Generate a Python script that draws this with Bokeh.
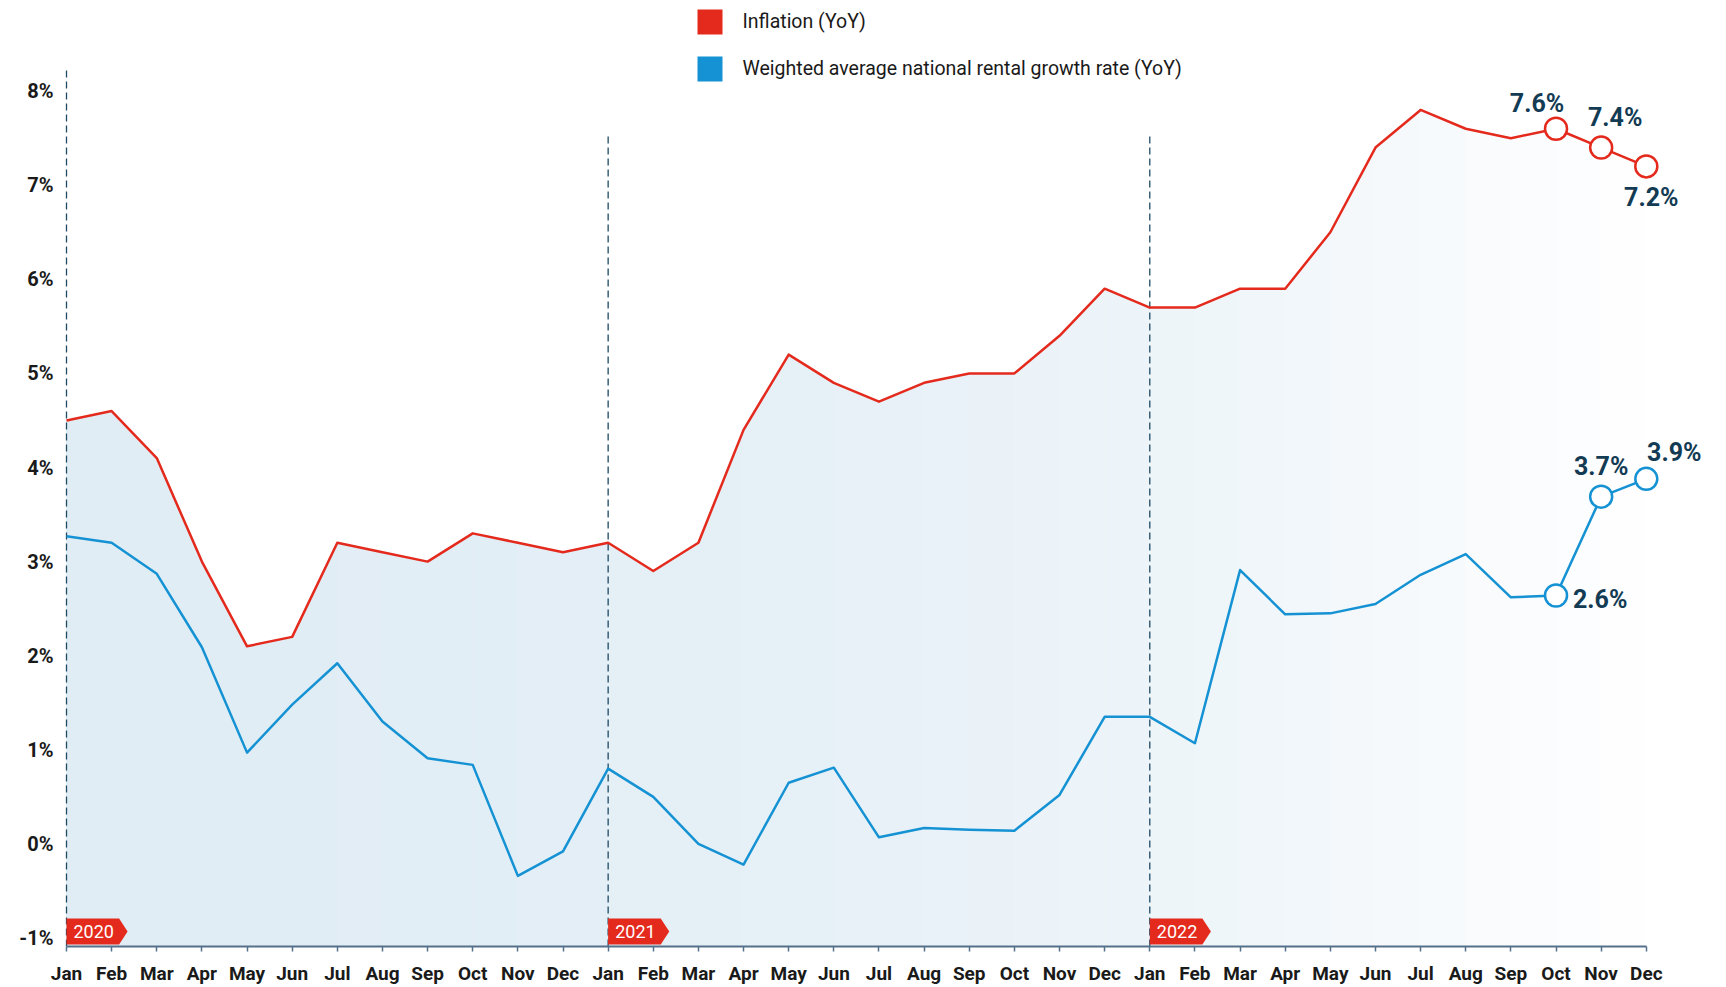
from bokeh.plotting import figure
from bokeh.models import Range1d, FixedTicker, ColumnDataSource
from bokeh.core.properties import value
from bokeh.embed import file_html
from bokeh.resources import INLINE

# ---------------- data ----------------
months = ["Jan", "Feb", "Mar", "Apr", "May", "Jun", "Jul", "Aug", "Sep", "Oct", "Nov", "Dec"]
years = [2020, 2021, 2022]
inflation = [4.5, 4.6, 4.1, 3.0, 2.1, 2.2, 3.2, 3.1, 3.0, 3.3, 3.2, 3.1,
             3.2, 2.9, 3.2, 4.4, 5.2, 4.9, 4.7, 4.9, 5.0, 5.0, 5.4, 5.9,
             5.7, 5.7, 5.9, 5.9, 6.5, 7.4, 7.8, 7.6, 7.5, 7.6, 7.4, 7.2]
rental = [3.27, 3.20, 2.87, 2.09, 0.97, 1.48, 1.92, 1.30, 0.91, 0.84, -0.34, -0.08,
          0.80, 0.50, 0.00, -0.22, 0.65, 0.81, 0.07, 0.17, 0.15, 0.14, 0.52, 1.35,
          1.35, 1.07, 2.91, 2.44, 2.45, 2.55, 2.86, 3.08, 2.62, 2.64, 3.69, 3.88]
series_names = ["Inflation (YoY)", "Weighted average national rental growth rate (YoY)"]
y_ticks = [-1, 0, 1, 2, 3, 4, 5, 6, 7, 8]
highlight = [33, 34, 35]

# ---------------- styles / layout ----------------
RED = "#e42a1d"
BLUE = "#1592d3"
NAVY = "#133b54"
DASH = "#1e4a64"
AXIS = "#55718a"
TXT = "#1a1a1a"
FONT = "Roboto"

W, H = 1726, 987
LB, BB = 58, 40
FW, FH = W - LB, H - BB
PX_X = 45.137          # pixels per month
PX_Y = 94.2            # pixels per 1 %
X0 = -(66 - LB) / PX_X
X1 = X0 + FW / PX_X
Y_TOP = 844.3 / PX_Y
Y_BOT = Y_TOP - FH / PX_Y


def py(page_y):
    return Y_TOP - page_y / PX_Y


def px(page_x):
    return (page_x - 66) / PX_X


n = len(inflation)
xs = list(range(n))
month_labels = [m for _ in years for m in months]

p = figure(width=W, height=H, output_backend="svg", toolbar_location=None,
           x_range=Range1d(X0, X1), y_range=Range1d(Y_BOT, Y_TOP),
           min_border_left=LB, min_border_bottom=BB, min_border_top=0, min_border_right=0)
p.outline_line_color = None
p.xgrid.visible = False
p.ygrid.visible = False
p.background_fill_color = "white"
p.border_fill_color = "white"

# ---------------- gradient area under inflation ----------------
base = (0xe1, 0xed, 0xf5)
pxs, pys, pcols = [], [], []
for i in range(n - 1):
    t = (i + 0.5) / (n - 1)
    f = t ** 2.3
    col = "#%02x%02x%02x" % tuple(int(round(c + f * (255 - c))) for c in base)
    pxs.append([xs[i], xs[i + 1], xs[i + 1], xs[i]])
    pys.append([Y_BOT, Y_BOT, inflation[i + 1], inflation[i]])
    pcols.append(col)
p.patches(pxs, pys, fill_color=pcols, line_color=pcols, line_width=1)

# ---------------- year dashed lines ----------------
year_idx = [len(months) * k for k in range(len(years))]
tops = [py(70), py(135), py(135)]
p.segment(x0=year_idx, y0=[Y_BOT] * len(years), x1=year_idx, y1=tops,
          line_color=DASH, line_width=1.3, line_dash="7 4")

# ---------------- lines ----------------
p.line(xs, inflation, line_color=RED, line_width=2.5, line_join="round")
p.line(xs, rental, line_color=BLUE, line_width=2.5, line_join="round")

hx = [xs[i] for i in highlight]
p.scatter(hx, [inflation[i] for i in highlight], marker="circle", size=22,
          fill_color="white", line_color=RED, line_width=2.5)
p.scatter(hx, [rental[i] for i in highlight], marker="circle", size=22,
          fill_color="white", line_color=BLUE, line_width=2.5)

# value labels
lab_src = ColumnDataSource(dict(
    x=hx + hx,
    y=[inflation[i] for i in highlight] + [rental[i] for i in highlight],
    t=["%.1f%%" % inflation[i] for i in highlight] + ["%.1f%%" % rental[i] for i in highlight],
    dx=[-19, 14, 5, 17, 0, 28],
    dy=[-25, -30, 31, 4, -30, -26],
    al=["center", "center", "center", "left", "center", "center"],
))
p.text(x="x", y="y", text="t", x_offset="dx", y_offset="dy", text_align="al",
       text_baseline="middle", source=lab_src, text_font=value(FONT),
       text_font_style="bold", text_font_size="25px", text_color=NAVY)

# ---------------- year badges ----------------
bw, tip, bh = 52.6 / PX_X, 8.5 / PX_X, 26 / PX_Y
b0 = py(945)
bxs, bys = [], []
for xi in year_idx:
    bxs.append([xi, xi + bw, xi + bw + tip, xi + bw, xi])
    bys.append([b0, b0, b0 + bh / 2, b0 + bh, b0 + bh])
p.patches(bxs, bys, fill_color=RED, line_color=None)
p.text(x=year_idx, y=[b0 + bh / 2] * len(years), text=[str(y) for y in years],
       x_offset=7, text_align="left", text_baseline="middle", text_font=value(FONT),
       text_font_size="18px", text_color="white")

# ---------------- legend ----------------
leg_y = [py(21.5), py(68.5)]
p.scatter([px(709.5)] * 2, leg_y, marker="square", size=25,
          fill_color=[RED, BLUE], line_color=None)
p.text(x=[px(742)] * 2, y=leg_y, text=series_names, text_align="left",
       text_baseline="middle", text_font=value(FONT), text_font_size="19.5px",
       text_color=TXT)

# ---------------- axes ----------------
xa = p.xaxis[0]
xa.ticker = FixedTicker(ticks=xs)
xa.major_label_overrides = {i: month_labels[i] for i in xs}
xa.bounds = (0, n - 1)
xa.axis_line_color = AXIS
xa.axis_line_width = 2
xa.major_tick_line_color = AXIS
xa.major_tick_line_width = 1.5
xa.major_tick_in = 0
xa.major_tick_out = 5
xa.minor_tick_line_color = None
xa.major_label_standoff = 10
xa.major_label_text_font = FONT
xa.major_label_text_font_style = "bold"
xa.major_label_text_font_size = "19px"
xa.major_label_text_color = TXT

ya = p.yaxis[0]
ya.ticker = FixedTicker(ticks=y_ticks)
ya.major_label_overrides = {v: "%d%%" % v for v in y_ticks}
ya.axis_line_color = None
ya.major_tick_line_color = None
ya.minor_tick_line_color = None
ya.major_tick_in = 0
ya.major_tick_out = 0
ya.major_label_standoff = 5
ya.major_label_text_font = FONT
ya.major_label_text_font_style = "bold"
ya.major_label_text_font_size = "20px"
ya.major_label_text_color = TXT

open("out.html", "w").write(file_html(p, INLINE))
